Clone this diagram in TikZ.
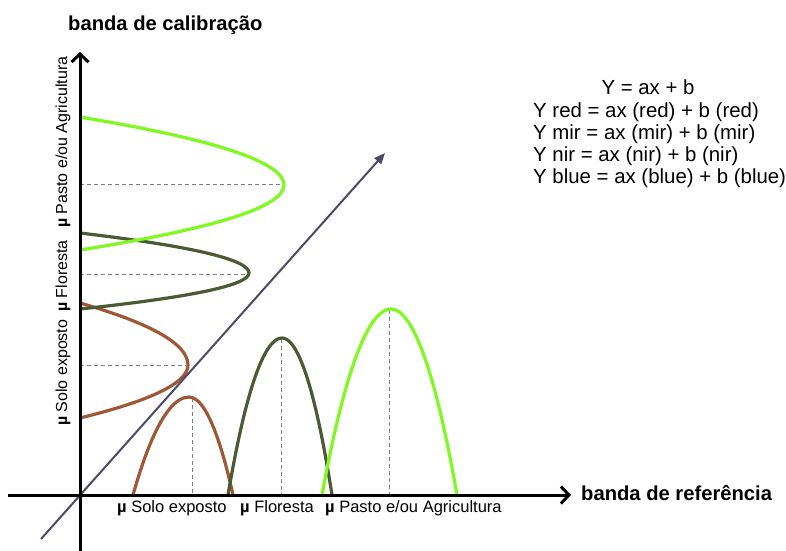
\documentclass[tikz,border=0pt]{standalone}
\usepackage{fontspec}
\setmainfont{Liberation Sans}
\usetikzlibrary{arrows.meta}
\definecolor{soilc}{RGB}{158,88,56}
\definecolor{forestc}{RGB}{74,90,50}
\definecolor{pastc}{RGB}{128,250,30}
\definecolor{diagc}{RGB}{75,75,105}
\newcommand\mysidepar[6]{%
  \draw[#1] (#2,#3) .. controls ({#2+2/3*(#4-#2)},{#3+1/3*(#5-#3)}) and (#4,{#5-1/3*(#5-#3)}) .. (#4,#5)
    .. controls (#4,{#5+1/3*(#6-#5)}) and ({#2+2/3*(#4-#2)},{#6-1/3*(#6-#5)}) .. (#2,#6);}
\begin{document}
\begin{tikzpicture}[x=1pt,y=-1pt,
  curve/.style={line width=3.2pt},
  guide/.style={gray,line width=0.8pt,dash pattern=on 4pt off 3pt},
  axis/.style={line width=3pt,-{Straight Barb[length=8pt,width=17pt]}},
  title/.style={font=\fontsize{20.2}{22}\selectfont\bfseries,inner sep=0pt},
  eq/.style={font=\fontsize{20.4}{22}\selectfont,inner sep=0pt},
  lab/.style={font=\fontsize{16.5}{18}\selectfont,inner sep=0pt},
  slab/.style={font=\fontsize{16}{18}\selectfont,inner sep=0pt,anchor=base west,rotate=90}]
\useasboundingbox (0,0) rectangle (786,550);
% guides
\draw[guide] (192,398) -- (192,495);
\draw[guide] (281,339) -- (281,495);
\draw[guide] (389,310) -- (389,495);
\draw[guide] (80,365) -- (186,365);
\draw[guide] (80,274) -- (246,274);
\draw[guide] (80,184) -- (281,184);
% bottom humps
\draw[curve,soilc] (133,495) parabola bend (189,397) (233,495);
\draw[curve,forestc] (228,495) parabola bend (282,338) (332,495);
\draw[curve,pastc] (322,495) parabola bend (391,309) (457,495);
% side curves
\mysidepar{curve,soilc}{80}{303}{188}{365}{418}
\mysidepar{curve,forestc}{80}{233}{249}{273}{309}
\mysidepar{curve,pastc}{80}{117}{284}{185}{250}
% diagonal
\coordinate (d0) at (41,539);
\coordinate (d1) at (385,153);
\draw[diagc,line width=2pt,-{Triangle[length=11pt,width=9pt]}] (d0) -- (d1);
% axes
\coordinate (o1) at (80,552);
\coordinate (y1) at (80,52);
\coordinate (o2) at (8,495);
\coordinate (x1) at (571,495);
\draw[axis] (o1) -- (y1);
\draw[axis] (o2) -- (x1);
% titles
\node[title,anchor=base west] (tc) at (68,30) {banda de calibração};
\node[title,anchor=base west] (tr) at (581,500) {banda de referência};
% equations
\node[eq,anchor=base] (e1) at (648,94) {Y = ax + b};
\node[eq,anchor=base west] (e2) at (533,117) {Y red = ax (red) + b (red)};
\node[eq,anchor=base west] (e3) at (533,139) {Y mir = ax (mir) + b (mir)};
\node[eq,anchor=base west] (e4) at (533,161) {Y nir = ax (nir) + b (nir)};
\node[eq,anchor=base west] (e5) at (533,183) {Y blue = ax (blue) + b (blue)};
% bottom labels
\node[lab,anchor=base west] (b1) at (117,512) {\textbf{µ} Solo exposto};
\node[lab,anchor=base west] (b2) at (240,512) {\textbf{µ} Floresta};
\node[lab,anchor=base west] (b3) at (325,512) {\textbf{µ} Pasto e/ou Agricultura};
% side labels
\node[slab] (s1) at (67,426) {\textbf{µ} Solo exposto};
\node[slab] (s2) at (67,312) {\textbf{µ} Floresta};
\node[slab] (s3) at (67,228) {\textbf{µ} Pasto e/ou Agricultura};
\end{tikzpicture}
\end{document}
